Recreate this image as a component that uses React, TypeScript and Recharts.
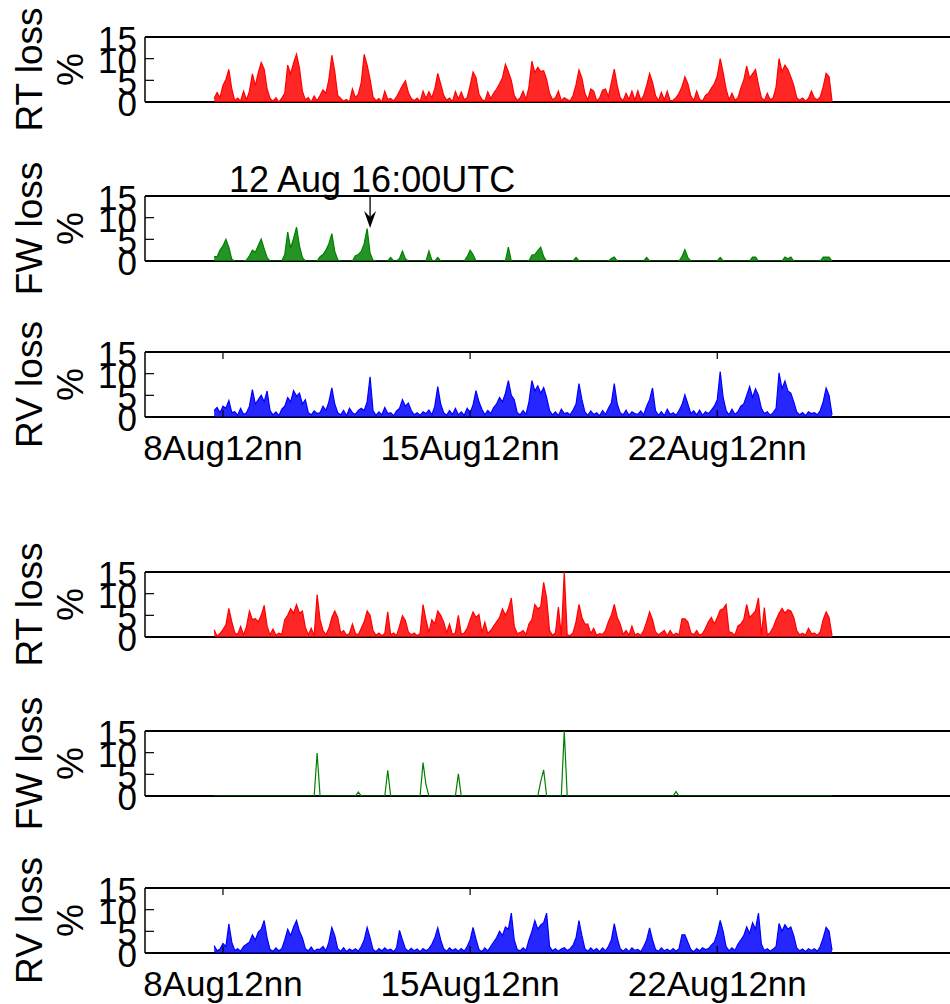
import React from 'react';
import { ComposedChart, Area, XAxis, YAxis, ReferenceLine, CartesianGrid } from 'recharts';

// time grid: hours relative to 8 Aug 12:00 UTC, one sample every 2 hours
const START_HOUR = -6;
const STEP_HOURS = 2;
const X_DOMAIN: [number, number] = [-53, 501];
const Y_DOMAIN: [number, number] = [0, 15];
const Y_TICKS = [0, 5, 10, 15];
const X_TICK_HOURS = [0, 168, 336];
const X_TICK_LABELS = ['8Aug12nn', '15Aug12nn', '22Aug12nn'];
const ANNOTATION_HOUR = 100;
const ANNOTATION_TIP = 7.6;
const ANNOTATION_TEXT = '12 Aug 16:00UTC';

const RT_TOP = [
  0.8, 2.2, 1.0, 3.8, 5.2, 7.5, 3.0, 0.3, 0.9, 0.2, 2.5, 0.5,
  2.5, 6.5, 3.8, 6.8, 9.1, 7.6, 3.0, 0.8, 0.2, 1.0, 0.0, 0.9,
  2.0, 8.5, 6.5, 9.0, 11.0, 7.8, 2.5, 0.5, 1.0, 0.0, 1.4, 0.3,
  1.5, 2.8, 2.0, 5.2, 10.8, 7.0, 1.5, 0.8, 0.2, 0.6, 0.0, 3.0,
  1.0, 1.8, 4.5, 11.0, 8.5, 5.2, 1.2, 0.3, 0.8, 0.0, 2.5, 0.6,
  0.8, 0.2, 1.2, 2.5, 3.8, 4.9, 2.2, 0.8, 0.3, 0.9, 0.1, 2.5,
  0.8, 2.4, 1.0, 3.0, 6.6, 4.2, 1.6, 0.4, 0.9, 0.1, 2.4, 0.7,
  2.3, 0.5, 1.0, 3.8, 6.9, 5.6, 1.8, 0.6, 0.2, 2.3, 0.8, 2.0,
  3.0, 4.2, 5.6, 8.7, 7.0, 5.0, 1.5, 0.4, 0.9, 2.5, 0.6, 3.5,
  9.4, 6.8, 8.0, 7.0, 7.2, 5.2, 2.0, 0.5, 1.0, 2.5, 0.3, 1.0,
  0.6, 0.2, 1.5, 4.0, 7.4, 5.5, 2.0, 0.5, 3.0, 2.5, 0.3, 0.9,
  2.7, 3.0, 1.2, 4.5, 7.6, 3.8, 1.0, 0.3, 2.0, 0.6, 2.5, 0.4,
  2.6, 0.4, 1.5, 3.8, 6.6, 4.5, 1.5, 0.3, 2.2, 0.5, 2.5, 0.3,
  0.4, 1.0, 2.0, 3.5, 5.8, 4.2, 1.4, 0.3, 2.5, 0.6, 0.2, 1.5,
  2.0, 3.2, 4.2, 6.0, 10.0, 6.8, 3.0, 0.5, 2.0, 0.4, 0.9, 3.2,
  5.0, 8.3, 5.5, 6.5, 7.5, 4.0, 1.0, 0.3, 2.0, 0.5, 0.9, 3.5,
  10.0, 7.0, 8.5, 7.5, 5.8, 3.8, 1.0, 0.4, 0.9, 0.2, 0.8, 2.5,
  0.9, 0.5, 1.2, 3.5, 6.6, 5.8, 0.3,
];

const FW_TOP = [
  1.0, 1.0, 2.5, 3.5, 5.0, 3.2, 0.4, 0, 0, 0, 0, 0.2,
  1.2, 2.5, 2.0, 3.6, 5.1, 2.8, 0.8, 0, 0, 0, 0, 0,
  1.5, 6.7, 3.0, 5.2, 7.8, 3.5, 0.8, 0, 0, 0, 0, 0,
  1.0, 1.5, 2.5, 4.0, 6.3, 2.2, 0.3, 0, 0, 0, 0, 0,
  1.2, 1.5, 2.2, 4.0, 7.5, 1.8, 0.2, 0, 0, 0, 0, 0,
  0.8, 0, 0, 0.6, 2.3, 0.5, 0, 0, 0, 0, 0, 0,
  0, 2.3, 0.2, 0, 0.8, 0, 0, 0, 0, 0, 0, 0,
  0, 0, 1.0, 2.5, 1.5, 0, 0, 0, 0, 0, 0, 0,
  0, 0, 0, 0, 3.2, 0, 0, 0, 0, 0, 0, 0,
  1.4, 1.5, 2.4, 3.2, 1.0, 0, 0, 0, 0, 0, 0, 0,
  0, 0, 0, 0.8, 0, 0, 0, 0, 0, 0, 0, 0,
  0, 0, 0, 0.6, 0.9, 0, 0, 0, 0, 0, 0, 0,
  0, 0, 0, 0.8, 0, 0, 0, 0, 0, 0, 0, 0,
  0, 0, 0, 1.0, 2.6, 0.8, 0, 0, 0, 0, 0, 0,
  0, 0, 0, 0, 0.8, 0, 0, 0, 0, 0, 0, 0,
  0, 0, 0, 0.9, 0.9, 0, 0, 0, 0, 0, 0, 0,
  0, 0, 0.9, 0.5, 0.9, 0, 0, 0, 0, 0, 0, 0,
  0, 0, 0, 0.9, 0.9, 0.9, 0,
];

const RV_TOP = [
  1.5, 2.2, 1.0, 2.5, 2.0, 3.8, 1.0, 1.2, 0.4, 2.0, 0.6, 1.0,
  2.5, 6.3, 3.0, 4.0, 5.0, 3.5, 6.0, 1.5, 0.5, 1.2, 0.3, 1.8,
  2.5, 4.5, 3.5, 6.1, 4.8, 5.5, 3.0, 4.0, 1.0, 0.5, 1.4, 0.8,
  1.0, 2.5, 1.5, 3.5, 6.7, 3.0, 1.0, 0.5, 1.5, 0.3, 2.0, 1.0,
  0.6, 1.5, 2.0, 1.5, 3.5, 9.3, 1.5, 0.4, 1.2, 0.5, 2.2, 0.8,
  1.0, 0.3, 1.4, 2.0, 4.0, 2.5, 3.2, 1.5, 0.5, 1.0, 0.4, 1.2,
  0.8, 1.6, 0.5, 2.5, 7.0, 3.0, 1.0, 0.4, 1.5, 0.6, 2.0, 0.5,
  1.2, 0.4, 2.0, 1.0, 2.8, 6.1, 3.5, 1.8, 0.5, 1.5, 0.8, 2.2,
  3.0, 4.5, 3.5, 5.5, 8.4, 5.0, 4.0, 1.0, 0.5, 1.5, 0.6, 3.5,
  8.4, 6.0, 7.2, 5.5, 6.8, 4.5, 1.5, 0.5, 1.2, 0.3, 1.8, 0.8,
  1.0, 0.5, 1.6, 3.0, 7.7, 4.0, 1.2, 0.4, 1.4, 0.6, 1.0, 0.3,
  1.5, 0.6, 2.0, 3.2, 7.7, 3.0, 1.0, 0.5, 1.6, 0.4, 1.2, 0.8,
  0.6, 1.4, 0.5, 2.5, 4.0, 6.7, 1.5, 0.4, 1.2, 0.3, 1.8, 0.6,
  1.0, 0.4, 1.5, 2.8, 5.1, 3.0, 0.8, 1.4, 0.5, 1.6, 0.4, 1.2,
  0.8, 1.6, 2.5, 4.0, 10.5, 4.5, 1.5, 0.5, 1.8, 0.6, 1.2, 2.5,
  3.0, 5.0, 7.0, 4.5, 6.5, 5.0, 2.0, 0.8, 1.2, 0.4, 1.0, 2.0,
  10.2, 6.5, 8.3, 6.0, 5.5, 3.5, 1.2, 0.5, 1.0, 0.3, 1.2, 0.8,
  1.0, 0.5, 1.5, 3.5, 6.7, 5.0, 0.5,
];

const RT_BOT = [
  1.7, 0.2, 0.8, 1.7, 2.8, 6.6, 3.5, 1.0, 0.6, 2.4, 0.5, 2.4,
  6.0, 4.0, 4.2, 3.5, 5.0, 7.3, 2.5, 0.5, 1.8, 0.4, 0.9, 0.6,
  4.0, 5.0, 6.5, 5.5, 7.5, 5.5, 6.0, 2.2, 0.5, 2.0, 0.3, 9.8,
  4.0, 1.5, 0.5, 2.0, 4.5, 6.0, 4.5, 1.0, 1.5, 0.4, 0.8, 3.0,
  0.8, 0.5, 2.0, 3.5, 6.0, 5.0, 1.5, 0.4, 0.9, 0.3, 0.8, 5.8,
  0.5, 0.9, 0.3, 2.5, 4.9, 3.8, 1.2, 0.5, 0.9, 0.3, 0.8, 7.5,
  4.0, 1.0, 4.0, 3.0, 6.0, 5.0, 3.5, 1.0, 3.0, 0.5, 1.0, 5.0,
  0.6, 0.9, 2.0, 4.0, 5.8, 4.5, 5.2, 1.0, 3.4, 0.8, 1.5, 2.5,
  3.5, 4.5, 6.5, 5.0, 6.5, 9.0, 2.5, 0.8, 1.0, 1.5, 0.6, 3.0,
  4.0, 7.5, 6.5, 7.0, 12.6, 9.0, 1.5, 0.4, 0.9, 6.9, 0.3, 15.0,
  0.5, 0.3, 1.0, 3.5, 7.5, 4.5, 3.0, 3.0, 0.8, 2.0, 0.4, 0.8,
  0.6, 1.5, 3.5, 5.0, 7.5, 4.5, 3.0, 0.6, 1.5, 0.4, 2.5, 0.5,
  0.8, 0.4, 1.5, 3.5, 5.8, 4.0, 1.2, 0.5, 1.0, 1.5, 0.3, 1.5,
  0.4, 0.9, 0.5, 4.2, 4.2, 3.5, 1.0, 0.5, 1.5, 0.4, 0.8, 2.0,
  3.5, 4.5, 3.0, 4.5, 6.2, 6.5, 7.5, 1.2, 1.0, 0.4, 2.5, 3.0,
  4.0, 7.5, 4.5, 5.2, 6.0, 9.0, 0.5, 6.8, 0.5, 1.0, 2.2, 4.0,
  5.5, 6.6, 5.5, 6.3, 6.0, 4.5, 1.5, 0.5, 0.9, 0.4, 2.0, 0.8,
  0.9, 0.4, 1.2, 4.0, 5.8, 4.5, 0.3,
];

const FW_BOT = [
  0, 0, 0, 0, 0, 0, 0, 0, 0, 0, 0, 0,
  0, 0, 0, 0, 0, 0, 0, 0, 0, 0, 0, 0,
  0, 0, 0, 0, 0, 0, 0, 0, 0, 0, 0, 9.9,
  0, 0, 0, 0, 0, 0, 0, 0, 0, 0, 0, 0,
  0, 0.9, 0, 0, 0, 0, 0, 0, 0, 0, 0, 5.9,
  0, 0, 0, 0, 0, 0, 0, 0, 0, 0, 0, 7.7,
  2.6, 0, 0, 0, 0, 0, 0, 0, 0, 0, 0, 5.1,
  0, 0, 0, 0, 0, 0, 0, 0, 0, 0, 0, 0,
  0, 0, 0, 0, 0, 0, 0, 0, 0, 0, 0, 0,
  0, 0, 0, 3.4, 6.0, 0, 0, 0, 0, 0, 0, 15.0,
  0, 0, 0, 0, 0, 0, 0, 0, 0, 0, 0, 0,
  0, 0, 0, 0, 0, 0, 0, 0, 0, 0, 0, 0,
  0, 0, 0, 0, 0, 0, 0, 0, 0, 0, 0, 0,
  0, 1.0, 0, 0, 0, 0, 0, 0, 0, 0, 0, 0,
  0, 0, 0, 0, 0, 0, 0, 0, 0, 0, 0, 0,
  0, 0, 0, 0, 0, 0, 0, 0, 0, 0, 0, 0,
  0, 0, 0, 0, 0, 0, 0, 0, 0, 0, 0, 0,
  0, 0, 0, 0, 0, 0, 0,
];

const RV_BOT = [
  1.7, 0.5, 0.9, 2.2, 1.5, 6.7, 2.5, 0.6, 1.0, 0.4, 1.5, 2.0,
  2.5, 4.2, 3.0, 4.8, 5.5, 7.5, 3.5, 0.8, 0.4, 1.2, 0.5, 1.0,
  3.0, 5.5, 4.0, 6.0, 7.5, 5.0, 3.5, 1.0, 0.5, 1.4, 0.4, 0.9,
  0.8, 1.5, 0.5, 2.5, 5.9, 4.0, 1.0, 0.4, 1.2, 0.3, 0.9, 0.5,
  1.0, 0.4, 1.5, 3.0, 5.9, 3.5, 0.8, 0.3, 1.0, 0.5, 1.2, 0.6,
  0.9, 0.3, 1.2, 5.2, 3.0, 1.0, 0.4, 1.1, 0.5, 0.9, 0.3, 1.0,
  0.5, 1.0, 2.0, 3.5, 5.8, 3.0, 1.0, 0.4, 1.2, 0.6, 1.0, 0.4,
  1.0, 0.4, 1.5, 3.0, 5.9, 3.2, 0.8, 0.3, 1.2, 0.5, 1.5, 2.5,
  3.5, 5.0, 4.0, 6.0, 5.5, 9.2, 3.0, 0.8, 0.5, 1.2, 0.6, 3.0,
  5.0, 7.5, 5.5, 6.5, 7.0, 9.2, 1.5, 0.5, 1.0, 0.4, 0.9, 1.2,
  0.6, 1.0, 1.8, 3.5, 7.5, 4.0, 1.0, 0.4, 1.2, 0.5, 1.0, 0.3,
  1.2, 0.5, 1.5, 3.0, 6.8, 3.5, 1.0, 0.4, 1.0, 0.3, 1.2, 0.6,
  0.8, 0.3, 1.5, 3.0, 5.8, 3.0, 0.8, 0.4, 1.2, 0.5, 0.9, 0.4,
  1.0, 0.4, 1.0, 4.2, 4.2, 2.5, 0.8, 0.3, 1.0, 0.5, 1.2, 0.8,
  1.0, 1.8, 2.5, 4.5, 7.5, 5.0, 1.5, 0.5, 1.2, 0.6, 2.0, 3.0,
  4.0, 6.0, 4.5, 7.0, 5.5, 9.2, 2.0, 0.6, 1.0, 0.4, 0.9, 1.5,
  6.8, 5.0, 6.5, 5.5, 6.0, 4.0, 1.2, 0.5, 0.9, 0.3, 1.0, 0.6,
  1.0, 0.4, 1.5, 3.5, 5.9, 5.0, 0.6,
];

const RED = '#ff0000';
const GREEN = '#008000';
const BLUE = '#0000ff';
const FONT = '"Liberation Sans", Arial, Helvetica, sans-serif';
const FONT_SIZE = 35;
const LABEL_SIZE = 37;

const PLOT_LEFT = 145;
const PLOT_H = 65;
const CHART_W = 980;
const MT = 40;
const MB = 56;
const X_AXIS_H = 1;
const CHART_H = MT + PLOT_H + MB;

function rows(values: number[]) {
  return values.map((v, i) => ({ t: START_HOUR + i * STEP_HOURS, v }));
}

const frameRows = (args: any) => {
  const o = args.offset;
  return [o.top, o.top + o.height];
};

const YTick = (props: any) => {
  const { x, y, payload } = props;
  const v = payload.value;
  return (
    <g>
      {v > Y_DOMAIN[0] && v < Y_DOMAIN[1] ? (
        <line x1={x} x2={x + 9} y1={y} y2={y} stroke="#000" strokeWidth={1.2} />
      ) : null}
      <text x={x - 8} y={y + 14} textAnchor="end" fontSize={FONT_SIZE} fontFamily={FONT} fill="#000">
        {v}
      </text>
    </g>
  );
};

const XTick = (props: any) => {
  const { x, y, payload } = props;
  const idx = X_TICK_HOURS.indexOf(payload.value);
  return (
    <g>
      <line x1={x} x2={x} y1={y} y2={y - 7} stroke="#000" strokeWidth={1.2} />
      <line x1={x} x2={x} y1={y - PLOT_H} y2={y - PLOT_H + 7} stroke="#000" strokeWidth={1.2} />
      <text x={x} y={y + 43} textAnchor="middle" fontSize={FONT_SIZE} fontFamily={FONT} fill="#000">
        {idx >= 0 ? X_TICK_LABELS[idx] : ''}
      </text>
    </g>
  );
};

const ArrowShape = (p: any) => {
  const { x1, y1, x2, y2 } = p;
  return (
    <g>
      <text x={x1 + 2} y={y1 - 4} textAnchor="middle" fontSize={36} fontFamily={FONT} fill="#000">
        {ANNOTATION_TEXT}
      </text>
      <line x1={x1} y1={y1 + 1} x2={x2} y2={y2 - 8} stroke="#000" strokeWidth={1.3} />
      <path d={`M${x2 - 6},${y2 - 17} L${x2},${y2} L${x2 + 6},${y2 - 17} L${x2},${y2 - 11} Z`} fill="#000" />
    </g>
  );
};

type PanelProps = {
  values: number[];
  color: string;
  label: string;
  top: number;
  xTicks?: boolean;
  annotate?: boolean;
  filled?: boolean;
};

function Panel({ values, color, label, top, xTicks, annotate, filled = true }: PanelProps) {
  const cy = MT + PLOT_H / 2;
  return (
    <div style={{ position: 'absolute', left: 0, top: top - MT, width: CHART_W, height: CHART_H }}>
      <svg style={{ position: 'absolute', left: 0, top: 0 }} width={PLOT_LEFT} height={CHART_H}>
        <text transform={`translate(42,${cy}) rotate(-90)`} textAnchor="middle" fontSize={LABEL_SIZE} fontFamily={FONT} fill="#000">
          {label}
        </text>
        <text transform={`translate(83,${cy}) rotate(-90)`} textAnchor="middle" fontSize={LABEL_SIZE} fontFamily={FONT} fill="#000">
          %
        </text>
      </svg>
      <div style={{ position: 'absolute', left: 0, top: 0 }}>
        <ComposedChart
          width={CHART_W}
          height={CHART_H}
          data={rows(values)}
          margin={{ top: MT, right: 20, bottom: MB - X_AXIS_H, left: 0 }}
        >
          <CartesianGrid
            vertical={false}
            horizontal
            stroke="#000"
            strokeWidth={1.8}
            strokeOpacity={1}
            horizontalCoordinatesGenerator={frameRows}
          />
          <XAxis
            dataKey="t"
            type="number"
            domain={X_DOMAIN}
            allowDataOverflow
            ticks={X_TICK_HOURS}
            interval={0}
            tickSize={0}
            tickMargin={0}
            height={X_AXIS_H}
            tickLine={false}
            tick={xTicks ? <XTick /> : false}
            axisLine={false}
          />
          <YAxis
            type="number"
            domain={Y_DOMAIN}
            allowDataOverflow
            ticks={Y_TICKS}
            interval={0}
            width={PLOT_LEFT}
            tickSize={0}
            tickMargin={0}
            tickLine={false}
            tick={<YTick />}
            axisLine={{ stroke: '#000', strokeWidth: 1.5 }}
          />
          <Area
            dataKey="v"
            type="linear"
            stroke={color}
            strokeWidth={1.2}
            fill={filled ? color : 'none'}
            fillOpacity={filled ? 0.85 : 0}
            dot={false}
            activeDot={false}
            isAnimationActive={false}
          />
          {annotate ? (
            <ReferenceLine
              segment={[
                { x: ANNOTATION_HOUR, y: Y_DOMAIN[1] },
                { x: ANNOTATION_HOUR, y: ANNOTATION_TIP },
              ]}
              shape={<ArrowShape />}
            />
          ) : null}
        </ComposedChart>
      </div>
    </div>
  );
}

export default function App() {
  return (
    <div
      style={{
        position: 'absolute',
        left: 0,
        top: 0,
        width: 950,
        height: 1004,
        overflow: 'hidden',
        background: '#fff',
      }}
    >
      <Panel values={RT_TOP} color={RED} label="RT loss" top={37} />
      <Panel values={FW_TOP} color={GREEN} label="FW loss" top={196} annotate />
      <Panel values={RV_TOP} color={BLUE} label="RV loss" top={352} xTicks />
      <Panel values={RT_BOT} color={RED} label="RT loss" top={572} />
      <Panel values={FW_BOT} color={GREEN} label="FW loss" top={731} filled={false} />
      <Panel values={RV_BOT} color={BLUE} label="RV loss" top={888} xTicks />
    </div>
  );
}
